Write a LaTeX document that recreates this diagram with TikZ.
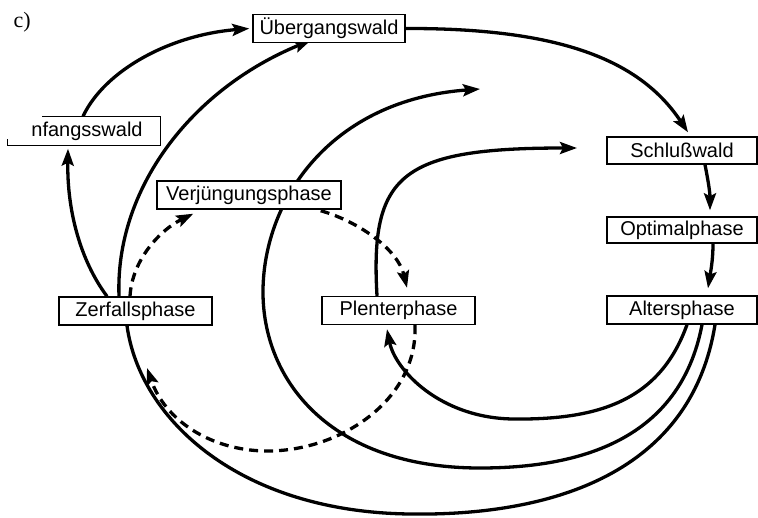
\documentclass[tikz,border=0pt]{standalone}
\usepackage{fontspec}
\setmainfont{Liberation Sans}
\newfontfamily\labelserif{Liberation Serif}
\usetikzlibrary{arrows.meta,calc,backgrounds}

\begin{document}
\begin{tikzpicture}[x=1pt,y=-1pt,
  phase/.style={draw, line width=1.4pt, fill=white, minimum height=28pt,
    inner sep=0pt, font=\fontsize{20}{24}\selectfont},
  boxline/.style={line width=1.4pt},
  plain/.style={line width=3.3pt},
  flow/.style={line width=3.3pt, -{Stealth[length=17pt,width=12pt,inset=3pt]}},
  dashflow/.style={flow, dash pattern=on 9pt off 6pt}]

\useasboundingbox (0,0) rectangle (758,517);

% panel label
\node[font=\labelserif\fontsize{22}{26}\selectfont, anchor=base west] (lbl) at (10,27) {c)};

% stand phases
\node[phase, minimum width=152pt] (ueber) at (329,28.5) {Übergangswald};
\node[phase, draw=none, minimum width=152pt] (anf) at (84,131) {\hspace*{6pt}nfangsswald};
\draw[boxline] ($(anf.north west)+(35,0)$) -- (anf.north east) -- (anf.south east)
  -- (anf.south west) -- ($(anf.south west)+(0,-7)$);
\node[phase, minimum width=184pt] (verj) at (249,195) {Verjüngungsphase};
\node[phase, minimum width=153pt] (zerf) at (135.5,311) {Zerfallsphase};
\node[phase, minimum width=153pt] (plent) at (398.5,310.5) {Plenterphase};
\node[phase, minimum width=150pt, minimum height=27pt] (schl) at (682,150.5) {Schlußwald};
\node[phase, minimum width=150pt, minimum height=26pt] (opt) at (682,230) {Optimalphase};
\node[phase, minimum width=150pt] (alt) at (682,310) {Altersphase};

% open ends of the large loops
\coordinate (gapA) at (480,89);
\coordinate (gapB) at (577,148);
\coordinate (dashend) at (147,368);

\begin{scope}[on background layer]
  % main succession
  \draw[flow] (ueber.east) .. controls (560,28) and (640,60) .. ($(schl.north)+(6,-4)$);
  \draw[flow] ($(schl.south)+(23,0)$) .. controls (708,180) and (710,192) .. ($(opt.north)+(28,-6)$);
  \draw[flow] ($(opt.south)+(31,0)$) .. controls (713,262) and (710,275) .. ($(alt.north)+(26,-7)$);

  % outer loop: Altersphase -> Zerfallsphase -> Übergangswald
  \draw[plain] ($(alt.south)+(33,0)$) .. controls (690,480) and (540,516) .. (410,514)
    .. controls (240,512) and (140,420) .. ($(zerf.south)+(-8.5,0)$);
  \draw[flow] ($(zerf.north)+(-16.5,0)$) .. controls (115,190) and (190,90) .. ($(ueber.south)+(-18,-3)$);

  % Zerfallsphase -> Anfangswald -> Übergangswald
  \draw[flow] ($(zerf.north)+(-28.5,0)$) .. controls (80,260) and (67,210) .. ($(anf.south)+(-16,3)$);
  \draw[flow] ($(anf.north)+(-1,0)$) .. controls (105,70) and (170,35) .. ($(ueber.west)+(-3,0)$);

  % middle loop, passing behind Verjüngungsphase
  \draw[flow] ($(alt.south)+(20,0)$) .. controls (680,440) and (580,468) .. (480,468)
    .. controls (330,468) and (262,380) .. (263,290)
    .. controls (264,200) and (330,100) .. (gapA);

  % inner loop through Plenterphase
  \draw[flow] ($(alt.south)+(5,0)$) .. controls (660,400) and (600,420) .. (513,419)
    .. controls (440,418) and (395,370) .. ($(plent.south)+(-11.5,4)$);
  \draw[flow] ($(plent.north)+(-21.5,0)$) .. controls (370,175) and (400,148) .. (gapB);

  % dashed regeneration cycle
  \draw[dashflow] ($(zerf.north)+(-5.5,0)$) .. controls (132,260) and (160,230) .. ($(verj.south west)+(37,4)$);
  \draw[dashflow] ($(verj.south east)+(-21,1)$) .. controls (360,222) and (398,250) .. ($(plent.north)+(8.5,-8)$);
  \draw[dashflow] ($(plent.south)+(16.5,0)$) .. controls (418,400) and (340,452) .. (265,451)
    .. controls (210,450) and (165,420) .. (dashend);
\end{scope}
\end{tikzpicture}
\end{document}
